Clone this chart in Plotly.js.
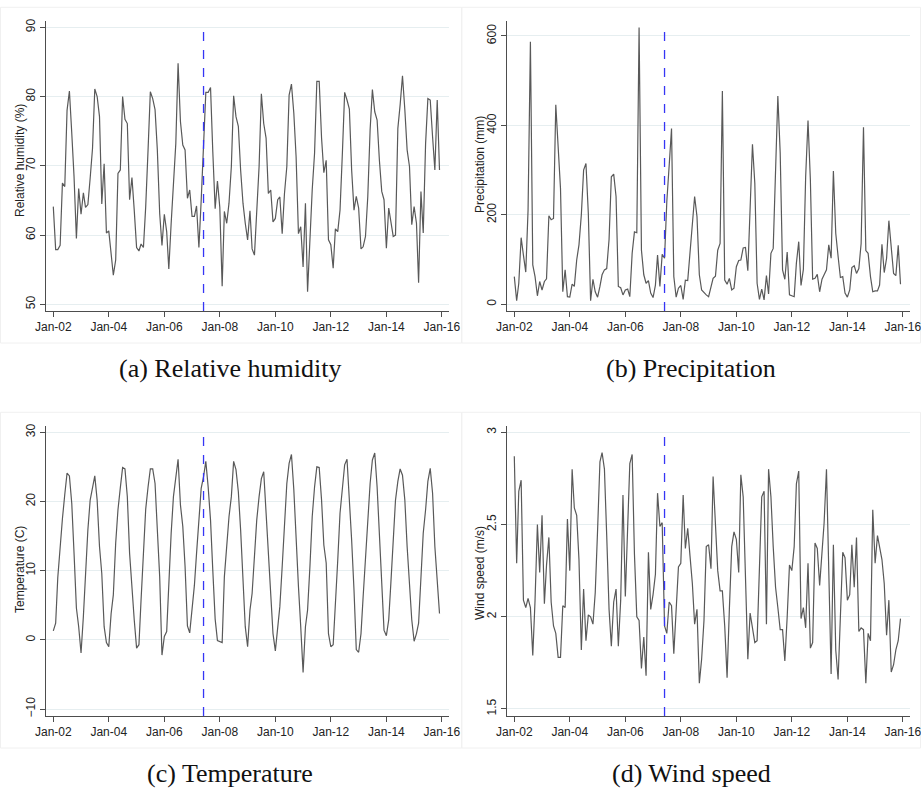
<!DOCTYPE html>
<html>
<head>
<meta charset="utf-8">
<script src="https://cdn.plot.ly/plotly-3.0.1.min.js"></script>
<style>
  html, body { margin: 0; padding: 0; background: #ffffff; }
  #chart { width: 921px; height: 791px; }
</style>
</head>
<body>
<div id="chart"></div>
<script>
// ---------------- DATA ----------------
const startYear = 2002;
const nMonths = 168; // Jan-02 .. Dec-15
const eventDate = '2007-06-01';

const tickDates = ['2002-01-01','2004-01-01','2006-01-01','2008-01-01','2010-01-01','2012-01-01','2014-01-01','2016-01-01'];
const tickLabels = ['Jan-02','Jan-04','Jan-06','Jan-08','Jan-10','Jan-12','Jan-14','Jan-16'];

const humidity = [
  64.1, 57.9, 57.9, 58.5, 67.5, 67.0, 78.0, 80.8, 74.7, 68.4,
  59.5, 66.7, 63.0, 66.1, 64.0, 64.4, 68.2, 72.5, 81.1, 80.0,
  77.1, 64.5, 70.3, 60.3, 60.6, 56.9, 54.2, 56.4, 68.9, 69.4,
  80.0, 76.7, 76.1, 65.1, 68.3, 63.6, 58.2, 57.7, 58.7, 58.2,
  64.1, 72.3, 80.7, 79.7, 78.1, 72.3, 63.1, 58.5, 63.0, 60.5,
  55.1, 61.7, 68.0, 73.2, 84.8, 76.4, 73.0, 72.3, 65.3, 66.5,
  62.7, 62.7, 64.2, 58.2, 65.0, 72.0, 80.6, 80.6, 81.3, 72.0,
  63.8, 67.8, 64.0, 52.6, 63.4, 61.7, 64.6, 69.9, 80.1, 77.1,
  75.7, 69.4, 64.6, 61.7, 59.3, 63.5, 58.0, 57.1, 63.6, 69.9,
  80.4, 76.1, 74.0, 66.0, 66.5, 61.9, 62.4, 65.1, 65.5, 60.2,
  66.0, 69.9, 80.2, 81.8, 77.6, 71.3, 60.2, 61.2, 55.4, 64.6,
  51.8, 60.3, 66.5, 71.8, 82.2, 82.2, 74.0, 69.0, 70.8, 59.3,
  58.6, 55.2, 60.9, 60.5, 63.6, 71.8, 80.6, 79.5, 78.2, 69.4,
  63.6, 65.6, 63.9, 58.0, 58.3, 59.8, 65.5, 75.2, 81.0, 77.8,
  76.6, 70.8, 66.3, 65.1, 58.1, 63.9, 61.7, 59.8, 60.0, 75.4,
  78.8, 83.0, 78.1, 72.3, 69.9, 61.5, 64.1, 61.7, 53.1, 66.3,
  60.3, 73.2, 79.7, 79.5, 74.2, 69.4, 79.5, 69.4
];

const precipitation = [
  62, 8, 47, 149, 110, 72, 210, 587, 88, 62,
  19, 51, 32, 51, 57, 198, 189, 192, 446, 353,
  259, 28, 77, 17, 16, 45, 40, 99, 133, 200,
  300, 315, 203, 8, 56, 28, 16, 40, 66, 77,
  80, 145, 285, 291, 241, 40, 37, 21, 32, 34,
  17, 114, 162, 160, 619, 121, 66, 47, 53, 25,
  15, 43, 110, 40, 112, 103, 230, 310, 393, 62,
  16, 36, 42, 11, 54, 53, 121, 174, 241, 196,
  66, 32, 26, 21, 17, 41, 58, 63, 121, 136,
  477, 54, 45, 58, 32, 36, 84, 98, 99, 126,
  127, 75, 230, 358, 270, 47, 11, 34, 10, 64,
  23, 114, 125, 285, 466, 338, 77, 56, 117, 21,
  19, 17, 92, 140, 42, 78, 285, 411, 278, 56,
  58, 67, 28, 56, 66, 77, 133, 103, 298, 159,
  107, 60, 62, 25, 16, 32, 82, 86, 69, 80,
  136, 396, 120, 114, 62, 28, 30, 30, 43, 134,
  71, 103, 187, 133, 69, 64, 132, 45
];

const temperature = [
  1.3, 2.4, 9.0, 14.0, 17.5, 21.0, 24.1, 23.7, 19.7, 12.5,
  4.6, 1.9, -1.9, 3.4, 10.1, 15.9, 20.2, 22.1, 23.7, 20.2,
  13.5, 9.6, 1.9, -0.4, -1.0, 3.8, 6.5, 14.0, 18.8, 22.0,
  24.9, 24.7, 20.7, 12.5, 6.7, 2.9, -1.2, -0.7, 5.8, 13.0,
  18.9, 22.1, 24.7, 24.7, 22.6, 15.9, 9.1, -2.2, 0.5, 1.2,
  9.1, 15.4, 20.7, 23.1, 26.1, 19.5, 16.4, 10.6, 2.0, 1.0,
  4.1, 7.9, 12.5, 17.3, 21.9, 23.6, 25.8, 22.1, 17.3, 10.0,
  3.0, -0.1, -0.3, -0.4, 9.1, 13.5, 17.8, 20.7, 25.8, 24.6,
  21.4, 15.9, 9.1, 1.9, -1.0, 4.3, 6.7, 13.0, 17.3, 20.7,
  23.3, 24.3, 18.3, 12.5, 6.2, 0.9, -1.6, 1.9, 4.8, 10.6,
  16.8, 22.6, 25.5, 26.8, 21.7, 14.0, 7.7, 1.9, -4.7, 1.9,
  4.3, 10.6, 17.8, 22.1, 25.0, 24.9, 20.2, 13.7, 11.1, 0.9,
  -1.0, -0.7, 6.2, 11.5, 18.3, 22.1, 25.3, 26.1, 20.7, 14.4,
  7.2, -1.4, -1.8, 0.9, 6.2, 11.5, 17.8, 22.6, 26.0, 27.0,
  22.1, 15.4, 8.2, 1.4, 0.6, 2.9, 8.2, 14.9, 20.2, 22.9,
  24.7, 23.8, 20.2, 13.5, 7.7, 2.9, -0.2, 0.9, 2.4, 10.1,
  15.4, 18.8, 22.9, 24.8, 21.2, 13.5, 8.6, 3.8
];

const windSpeed = [
  2.87, 2.29, 2.68, 2.74, 2.09, 2.05, 2.10, 2.05, 1.79, 2.09,
  2.50, 2.24, 2.55, 2.07, 2.28, 2.43, 2.08, 1.95, 1.91, 1.78,
  1.78, 2.06, 2.05, 2.53, 2.25, 2.80, 2.59, 2.55, 2.31, 1.82,
  2.15, 1.87, 2.01, 2.00, 1.96, 2.13, 2.47, 2.84, 2.89, 2.80,
  2.44, 2.04, 1.84, 2.08, 2.15, 1.84, 2.09, 2.66, 2.11, 2.51,
  2.83, 2.88, 2.34, 2.00, 1.98, 1.72, 1.89, 1.68, 2.35, 2.04,
  2.12, 2.23, 2.67, 2.49, 2.51, 1.95, 1.91, 2.08, 2.06, 1.80,
  2.05, 2.27, 2.29, 2.66, 2.37, 2.48, 2.33, 2.18, 1.96, 2.04,
  1.64, 1.77, 1.98, 2.38, 2.39, 2.26, 2.76, 2.47, 2.25, 2.14,
  2.14, 1.95, 1.67, 2.04, 2.38, 2.46, 2.42, 2.24, 2.77, 2.65,
  2.27, 1.77, 2.02, 1.93, 1.86, 1.87, 2.25, 2.65, 2.68, 1.96,
  2.80, 2.65, 2.38, 2.16, 2.05, 1.93, 1.93, 1.76, 2.00, 2.28,
  2.25, 2.38, 2.72, 2.79, 1.99, 2.05, 1.94, 2.29, 1.83, 1.86,
  2.40, 2.37, 2.17, 2.36, 2.51, 2.80, 2.25, 1.69, 2.39, 1.82,
  1.66, 1.98, 2.35, 2.32, 2.09, 2.12, 2.39, 2.16, 2.43, 1.92,
  1.94, 1.93, 1.64, 1.91, 1.87, 2.58, 2.29, 2.44, 2.38, 2.31,
  2.18, 1.90, 2.09, 1.70, 1.74, 1.82, 1.87, 1.99
];

const yTitles = ['Relative humidity (%)', 'Precipitation (mm)', 'Temperature (C)', 'Wind speed (m/s)'];
const captions = ['(a) Relative humidity', '(b) Precipitation', '(c) Temperature', '(d) Wind speed'];
const yTicks = [[50, 60, 70, 80, 90], [0, 200, 400, 600], [-10, 0, 10, 20, 30], [1.5, 2, 2.5, 3]];

// ---------------- BUILD ----------------
const months = [];
for (let i = 0; i < nMonths; i++) {
  const y = startYear + Math.floor(i / 12);
  const m = (i % 12) + 1;
  months.push(y + '-' + (m < 10 ? '0' + m : m) + '-01');
}

const W = 921, H = 791;
const series = [humidity, precipitation, temperature, windSpeed];
const yRanges = [[49.03, 90.91], [-15.0, 633.5], [-11.01, 30.91], [1.462, 3.034]];
const xDomains = [[45.7 / W, 449.3 / W], [506.7 / W, 910.3 / W]];
const yDomains = [[1 - 311 / H, 1 - 21 / H], [1 - 716 / H, 1 - 426 / H]];
const xRange = ['2001-09-23', '2016-04-08'];
const yTitlePos = [[20, 161], [480, 165], [20, 570], [480, 573]];

const sansFont = 'Liberation Sans, Arial, Helvetica, sans-serif';
const axisColor = '#4d4d4d';
const gridColor = '#e6eef0';

const traces = [];
const layout = {
  width: W, height: H,
  margin: {l: 0, r: 0, t: 0, b: 0},
  paper_bgcolor: '#ffffff',
  plot_bgcolor: '#ffffff',
  showlegend: false,
  font: {family: sansFont, size: 12, color: '#222222'},
  shapes: [],
  annotations: []
};

for (let k = 0; k < 4; k++) {
  const col = k % 2, row = Math.floor(k / 2);
  const sfx = k === 0 ? '' : String(k + 1);
  traces.push({
    x: months, y: series[k], type: 'scatter', mode: 'lines',
    xaxis: 'x' + sfx, yaxis: 'y' + sfx,
    line: {color: '#595959', width: 1.2},
    hoverinfo: 'x+y'
  });
  layout['xaxis' + sfx] = {
    domain: xDomains[col], anchor: 'y' + sfx, type: 'date',
    range: xRange, tickmode: 'array', tickvals: tickDates, ticktext: tickLabels,
    ticks: 'outside', ticklen: 5, tickwidth: 1, tickcolor: axisColor,
    showline: true, linecolor: axisColor, linewidth: 1,
    showgrid: false, zeroline: false, ticklabeloverflow: 'allow',
    tickfont: {family: sansFont, size: 12, color: '#222222'}
  };
  layout['yaxis' + sfx] = {
    domain: yDomains[row], anchor: 'x' + sfx, range: yRanges[k],
    tickmode: 'array', tickvals: yTicks[k], tickangle: -90,
    ticks: 'outside', ticklen: 5, tickwidth: 1, tickcolor: axisColor,
    showline: true, linecolor: axisColor, linewidth: 1,
    showgrid: true, gridcolor: gridColor, gridwidth: 1, zeroline: false,
    tickfont: {family: sansFont, size: 12, color: '#222222'}
  };
  // y-axis title
  layout.annotations.push({
    text: yTitles[k], xref: 'paper', yref: 'paper', textangle: -90,
    x: yTitlePos[k][0] / W, y: 1 - yTitlePos[k][1] / H,
    xanchor: 'center', yanchor: 'middle', showarrow: false,
    font: {family: sansFont, size: 12, color: '#222222'}
  });
  // event date marker
  layout.shapes.push({
    type: 'line', xref: 'x' + sfx, yref: 'y' + sfx + ' domain',
    x0: eventDate, x1: eventDate, y0: 0, y1: 0.99,
    line: {color: '#3535f5', width: 1.3, dash: 'dash'}
  });
  // faint panel frame
  const fx0 = col === 0 ? 0.5 : 461.7, fx1 = col === 0 ? 461.7 : 920.5;
  const fy0 = row === 0 ? 7.3 : 412.3, fy1 = row === 0 ? 343 : 748;
  layout.shapes.push({
    type: 'rect', xref: 'paper', yref: 'paper',
    x0: fx0 / W, x1: fx1 / W, y0: 1 - fy1 / H, y1: 1 - fy0 / H,
    line: {color: '#f0f0f0', width: 1}, layer: 'below'
  });
  // panel caption
  layout.annotations.push({
    text: captions[k], xref: 'paper', yref: 'paper',
    x: (col === 0 ? 230 : 691) / W, y: 1 - (row === 0 ? 368 : 773) / H,
    xanchor: 'center', yanchor: 'middle', showarrow: false,
    font: {family: 'Liberation Serif, Times New Roman, serif', size: 26, color: '#111111'}
  });
}

Plotly.newPlot('chart', traces, layout, {displayModeBar: false, staticPlot: true});
</script>
</body>
</html>
